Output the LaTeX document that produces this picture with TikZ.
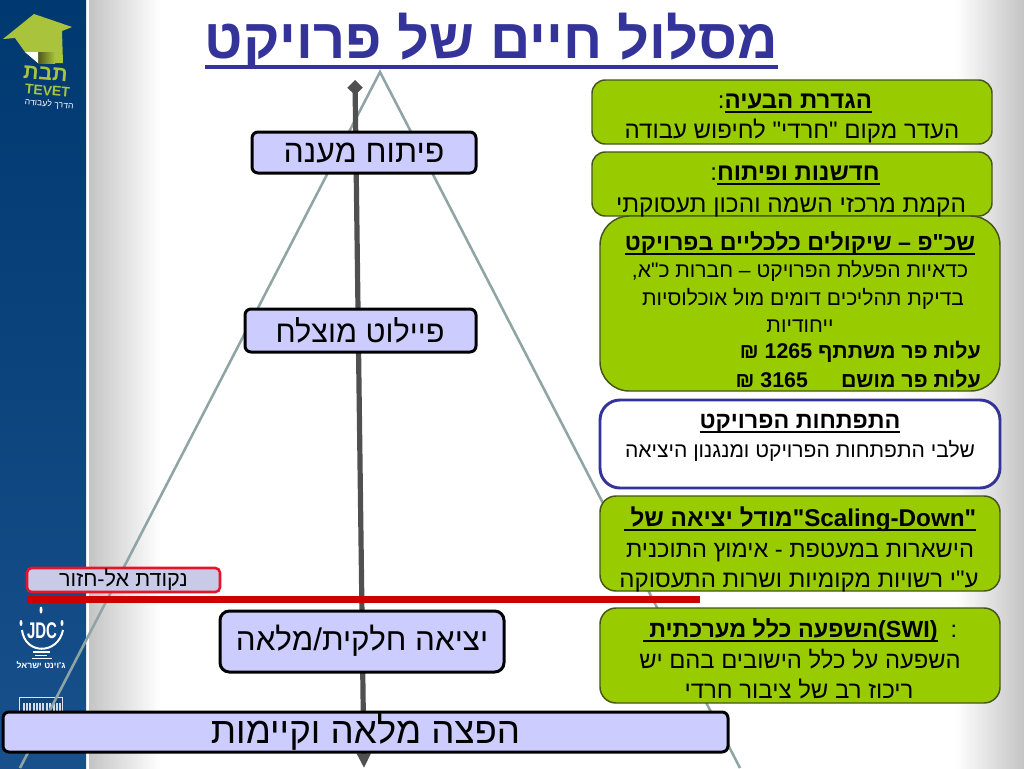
\documentclass[tikz,border=0pt]{standalone}
\usepackage{fontspec}
\setmainfont{Liberation Sans}[Script=Hebrew,Ligatures=TeXOff]
\usetikzlibrary{arrows.meta,shapes.geometric}
\TeXXeTstate=1
\definecolor{navytop}{RGB}{0,56,112}
\definecolor{navybot}{RGB}{24,80,140}
\definecolor{lav}{RGB}{204,204,255}
\definecolor{leaf}{RGB}{153,204,0}
\definecolor{leafline}{RGB}{70,84,26}
\definecolor{indigo}{RGB}{51,51,153}
\definecolor{steelline}{RGB}{143,165,165}
\definecolor{shaft}{RGB}{80,80,80}
\definecolor{hat}{RGB}{170,195,60}
\newcommand\heb[1]{\beginR #1\endR}
\newcommand\lat[1]{\beginL #1\endL{}}
\newcommand\ulbox[3][1.6pt]{\setbox0\hbox{#3}\dp0=0pt \vtop{\box0\kern#2\hrule height #1}}
\newcommand\sz[1]{\fontsize{#1}{#1}\selectfont}
\tikzset{
  x=0.75pt,y=-0.75pt,
  lavbox/.style={draw=black,line width=2.25pt,fill=lav,rounded corners=4.5pt,inner sep=0pt},
  leafbox/.style={draw=leafline,line width=1.1pt,fill=leaf,rounded corners=10pt,inner sep=0pt},
  whitebox/.style={draw=indigo,line width=2.2pt,fill=white,rounded corners=15pt,inner sep=0pt},
  body/.style={inner sep=0pt,anchor=base,text=black},
  bodyr/.style={body,anchor=base east},
  steptext/.style={inner sep=0pt,text=black},
}
\begin{document}
\begin{tikzpicture}
\useasboundingbox (0,0) rectangle (1024,768);
% background
\fill[white] (0,0) rectangle (1024,768);
\shade[left color=black!23,right color=white] (89,0) rectangle (160,768);
\shade[left color=white,right color=black!23] (955,0) rectangle (1024,768);
\shade[top color=navytop,bottom color=navybot] (0,0) rectangle (86,768);
% hat logo
\fill[hat] (34,14) -- (72,27) -- (62,31) -- (63,63) -- (38,63) -- (25,52) -- (15,38) -- (3,39) -- cycle;
\shade[left color=black!55!hat,right color=hat] (38,52) rectangle (55,63);
\fill[white] (25,52) -- (38,52) -- (38,63) -- cycle;
\node[inner sep=0pt,anchor=base,text=hat,rotate=-5,font=\bfseries\sz{16}] (tevetheb) at (45,80) {\heb{תבת}};
\node[inner sep=0pt,anchor=base,text=hat,rotate=-5,font=\bfseries\sz{10.5}] (tevetlat) at (47,95.5) {TEVET};
\node[inner sep=0pt,anchor=base,text=white,rotate=-5,font=\sz{6.5}] (tevetsub) at (49,107) {\heb{הדרך לעבודה}};
% JDC logo
\draw[white,line width=1.5pt] (22,630) .. controls (25,655) and (58,655) .. (63,630);
\fill[white] (41,610) ellipse[x radius=1.5,y radius=3.5];
\fill[white] (21,623) ellipse[x radius=1.5,y radius=3];
\fill[white] (62,623) ellipse[x radius=1.5,y radius=3];
\fill[white] (33,651) rectangle (50,653);
\fill[white] (35,654.5) rectangle (47,656);
\fill[white] (32,657.5) rectangle (52,659);
\node[inner sep=0pt,anchor=base,text=white,font=\bfseries\sz{17}] (jdc) at (42,638) {\scalebox{0.66}[1]{JDC}};
\node[inner sep=0pt,anchor=base,text=white,font=\bfseries\sz{6.5}] (jdcsub) at (41,668) {\heb{ג'וינט ישראל}};
\draw[white!85!navybot,line width=0.5pt,fill=navybot!85!black] (19,697) rectangle (62,713);
\foreach \x in {23,26,29,33,36,39,42,46,49,53,56,59}{\fill[white!80!navybot] (\x,703) rectangle (\x+1.6,711);}
% triangle and shaft
\coordinate (apex) at (380,72);
\coordinate (leftfoot) at (20,768);
\coordinate (rightfoot) at (740,768);
\draw[steelline,line width=1.9pt] (leftfoot) -- (apex) -- (rightfoot);
\coordinate (shafttop) at (355,80);
\coordinate (shaftbot) at (364,768);
\draw[shaft,line width=3.9pt,{Diamond[length=11.5pt,width=11.5pt]}-{Triangle[length=11pt,width=10pt]}] (shafttop) -- (shaftbot);
% title
\node[inner sep=0pt,anchor=base,text=indigo,font=\bfseries\sz{41.9}] (title) at (491.5,58) {\ulbox[3pt]{5pt}{\heb{מסלול חיים של פרויקט}}};
% stage boxes
\node[lavbox,minimum width=168pt,minimum height=30.75pt] (s1) at (364,152.5) {};
\node[steptext,font=\sz{24}] (s1t) at (364,153) {\heb{פיתוח מענה}};
\node[lavbox,minimum width=173.25pt,minimum height=32.25pt] (s2) at (360.5,330.5) {};
\node[steptext,font=\sz{23}] (s2t) at (360,330) {\heb{פיילוט מוצלח}};
\node[lavbox,minimum width=213pt,minimum height=45.75pt,rounded corners=7pt] (s3) at (362,641.5) {};
\node[steptext,font=\sz{23.5}] (s3t) at (362,641) {\heb{יציאה חלקית/מלאה}};
\node[lavbox,minimum width=543.75pt,minimum height=30pt] (s4) at (365.5,732) {};
\node[steptext,font=\sz{27.5}] (s4t) at (365.5,732) {\heb{הפצה מלאה וקיימות}};
% no-return
\node[draw={rgb,255:red,230;green,20;blue,40},line width=1.9pt,fill={rgb,255:red,200;green,202;blue,232},rounded corners=3.5pt,minimum width=144.75pt,minimum height=18pt,inner sep=0pt] (nr) at (123.5,580) {};
\node[inner sep=0pt,font=\sz{16.2}] (nrt) at (123.5,580) {\heb{נקודת אל-חזור}};
\fill[red!80!black] (27,596) rectangle (700,603);
% right boxes
\node[leafbox,minimum width=300pt,minimum height=48pt] (b1) at (792,112) {};
\node[leafbox,minimum width=300pt,minimum height=48pt] (b2) at (792,184) {};
\node[leafbox,minimum width=300pt,minimum height=131.25pt,rounded corners=22pt] (b3) at (800,303.5) {};
\node[whitebox,minimum width=300pt,minimum height=66pt] (b4) at (800,444) {};
\node[leafbox,minimum width=300pt,minimum height=71.25pt,rounded corners=12pt] (b5) at (800,543.5) {};
\node[leafbox,minimum width=300pt,minimum height=71.25pt,rounded corners=12pt] (b6) at (800,655.5) {};
% box texts
\node[body,font=\sz{18}] (t11) at (795,108) {\heb{\ulbox{2.4pt}{\bfseries\heb{הגדרת הבעיה}}:}};
\node[body,font=\sz{18}] (t12) at (792,138) {\heb{העדר מקום "חרדי" לחיפוש עבודה}};
\node[body,font=\sz{18}] (t21) at (795,180) {\heb{\ulbox{2.4pt}{\bfseries\heb{חדשנות ופיתוח}}:}};
\node[body,font=\sz{18.3}] (t22) at (791,212) {\heb{הקמת מרכזי השמה והכון תעסוקתי}};
\node[body,font=\sz{17.4}] (t31) at (800,250) {\ulbox{2pt}{\bfseries\heb{שכ"פ – שיקולים כלכליים בפרויקט}}};
\node[body,font=\sz{15.8}] (t32) at (800,277) {\heb{כדאיות הפעלת הפרויקט – חברות כ"א,}};
\node[body,font=\sz{15.8}] (t33) at (803,305) {\heb{בדיקת תהליכים דומים מול אוכלוסיות}};
\node[body,font=\sz{15.8}] (t34) at (800,332) {\heb{ייחודיות}};
\node[bodyr,font=\bfseries\sz{16}] (t35) at (981,358) {\heb{עלות פר משתתף \lat{1265} ₪}};
\node[bodyr,font=\bfseries\sz{16}] (t36) at (981,387) {\heb{עלות פר מושם \quad\ \lat{3165} ₪}};
\node[body,font=\sz{17.5}] (t41) at (800,428) {\ulbox{2.4pt}{\bfseries\heb{התפתחות הפרויקט}}};
\node[body,font=\sz{15.8}] (t42) at (800,457) {\heb{שלבי התפתחות הפרויקט ומנגנון היציאה}};
\node[body,font=\sz{18.2}] (t51) at (800,526) {\ulbox{2.4pt}{\bfseries\heb{\lat{"Scaling-Down"}מודל יציאה של~}}};
\node[body,font=\sz{17.7}] (t52) at (800,557) {\heb{הישארות במעטפת - אימוץ התוכנית}};
\node[body,font=\sz{18}] (t53) at (799,587) {\heb{ע"י רשויות מקומיות ושרות התעסוקה}};
\node[body,font=\sz{17.5}] (t61) at (800,637) {\heb{:\ \ \ulbox{2.4pt}{\bfseries\heb{\lat{(SWI)}השפעה כלל מערכתית~}}}};
\node[body,font=\sz{17.8}] (t62) at (800,668) {\heb{השפעה על כלל הישובים בהם יש}};
\node[body,font=\sz{18}] (t63) at (799,698) {\heb{ריכוז רב של ציבור חרדי}};
\end{tikzpicture}
\end{document}
